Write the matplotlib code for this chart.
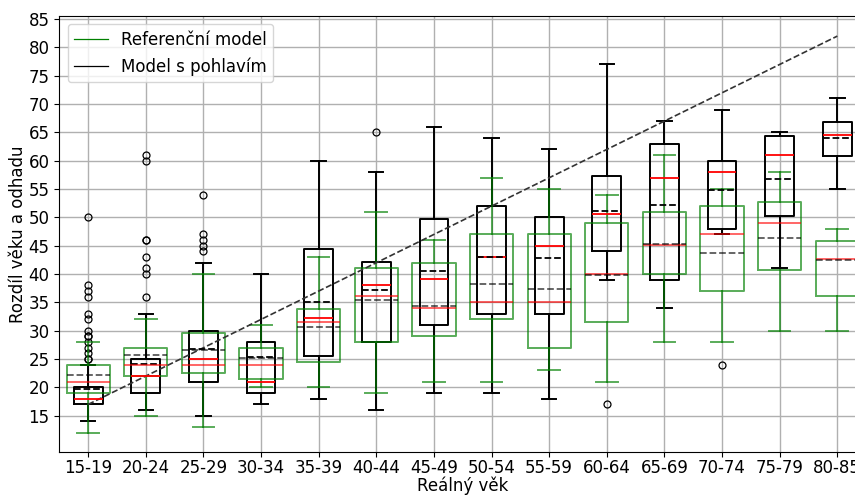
import matplotlib
matplotlib.use('Agg')
import matplotlib.pyplot as plt
from matplotlib.lines import Line2D

# age groups and the "ideal" line (group midpoints)
age_groups = ['15-19', '20-24', '25-29', '30-34', '35-39', '40-44', '45-49',
              '50-54', '55-59', '60-64', '65-69', '70-74', '75-79', '80-85']
ideal = [17, 22, 27, 32, 37, 42, 47, 52, 57, 62, 67, 72, 77, 82]

# Referenční model (green)
ref_q1 = [19, 22, 22.6, 21.5, 24.5, 28, 29, 32, 27, 31.5, 40, 37, 40.8, 36.2]
ref_med = [21, 24, 24, 24, 31.6, 36.1, 34, 35, 35, 40, 45.1, 47, 49, 42.6]
ref_q3 = [24, 27, 29.6, 27, 33.9, 41, 41.9, 47, 47, 49, 51, 52, 52.8, 45.9]
ref_mean = [22.2, 25.7, 26.6, 25.2, 30.7, 35.5, 34.4, 38.3, 37.4, 39.8, 45.3, 43.8, 46.4, 42.5]
ref_lo = [12, 15, 13, 20, 20, 19, 21, 21, 23, 21, 28, 28, 30, 30]
ref_hi = [28, 32, 40, 31, 43, 51, 46, 57, 55, 54, 61, 55, 58, 48]

# Model s pohlavím (black)
sex_q1 = [17, 19, 21, 19, 25.6, 28, 31, 33, 33, 44, 39, 48, 50.3, 60.8]
sex_med = [18, 22, 25, 21, 32.2, 38, 39.1, 43, 45, 50.6, 57, 58, 61, 64.6]
sex_q3 = [20, 25, 30, 28, 44.4, 42.1, 49.8, 52, 50, 57.3, 63, 60, 64.3, 66.8]
sex_mean = [19.8, 24.2, 26.8, 25.4, 35.0, 37.2, 40.6, 43.1, 42.9, 51.1, 52.2, 54.8, 56.8, 64.0]
sex_lo = [14, 16, 15, 17, 18, 16, 19, 19, 18, 39, 34, 47, 41, 55]
sex_hi = [24, 33, 42, 40, 60, 58, 66, 64, 62, 77, 67, 69, 65, 71]
sex_fliers = [
    [25, 25, 26, 27, 28, 29, 29, 30, 32, 33, 36, 37, 38, 50],
    [36, 40, 41, 43, 46, 46, 60, 61],
    [44, 45, 46, 47, 54],
    [], [], [65], [], [], [], [17], [], [24], [], [],
]


def build_stats(q1, med, q3, mean, lo, hi, fliers=None):
    """
    Builds the list of dicts that ax.bxp expects.
    """
    stats = []
    for i in range(len(q1)):
        stats.append({
            'q1': q1[i], 'med': med[i], 'q3': q3[i], 'mean': mean[i],
            'whislo': lo[i], 'whishi': hi[i],
            'fliers': fliers[i] if fliers else [],
        })
    return stats


def draw_model(ax, stats, positions, color, width, alpha, show_fliers):
    """
    Draws one set of boxes with red medians and dashed means.
    """
    line = dict(color=color, linewidth=1.4, alpha=alpha)
    ax.bxp(
        stats,
        positions=positions,
        widths=width,
        showmeans=True,
        meanline=True,
        showfliers=show_fliers,
        boxprops=line,
        whiskerprops=line,
        capprops=line,
        medianprops=dict(color='red', linewidth=1.3, alpha=alpha),
        meanprops=dict(color='black', linestyle='--', linewidth=1.3, alpha=alpha),
        flierprops=dict(marker='o', markersize=5, markerfacecolor='none',
                        markeredgecolor='black', markeredgewidth=0.9),
        manage_ticks=False,
    )


fig = plt.figure(figsize=(8.55, 4.96), dpi=100)
ax = fig.add_axes([0.0694, 0.0887, 0.9436, 0.8796])
positions = list(range(1, len(age_groups) + 1))

draw_model(ax, build_stats(sex_q1, sex_med, sex_q3, sex_mean, sex_lo, sex_hi, sex_fliers),
           positions, 'black', 0.5, 1.0, True)
draw_model(ax, build_stats(ref_q1, ref_med, ref_q3, ref_mean, ref_lo, ref_hi),
           positions, 'green', 0.75, 0.65, False)

ax.plot(positions, ideal, linestyle='--', color='#333333', linewidth=1.2)

ax.set_xlim(0.5, len(age_groups) + 0.5)
ax.set_ylim(8.6, 85.6)
ax.set_yticks(range(15, 90, 5))
ax.set_xticks(positions)
ax.set_xticklabels(age_groups)
ax.tick_params(labelsize=12)
ax.tick_params(axis='x', pad=1.5)
ax.grid(True, color='#b0b0b0', linewidth=1.0)
ax.set_axisbelow(True)

ax.set_xlabel('Reálný věk', fontsize=12, labelpad=0)
ax.set_ylabel('Rozdíl věku a odhadu', fontsize=12, labelpad=1)

handles = [Line2D([], [], color='green', linewidth=0.9),
           Line2D([], [], color='black', linewidth=0.9)]
ax.legend(handles, ['Referenční model', 'Model s pohlavím'], loc='upper left', fontsize=12)

fig.savefig('out.png', dpi=100)
plt.close(fig)
